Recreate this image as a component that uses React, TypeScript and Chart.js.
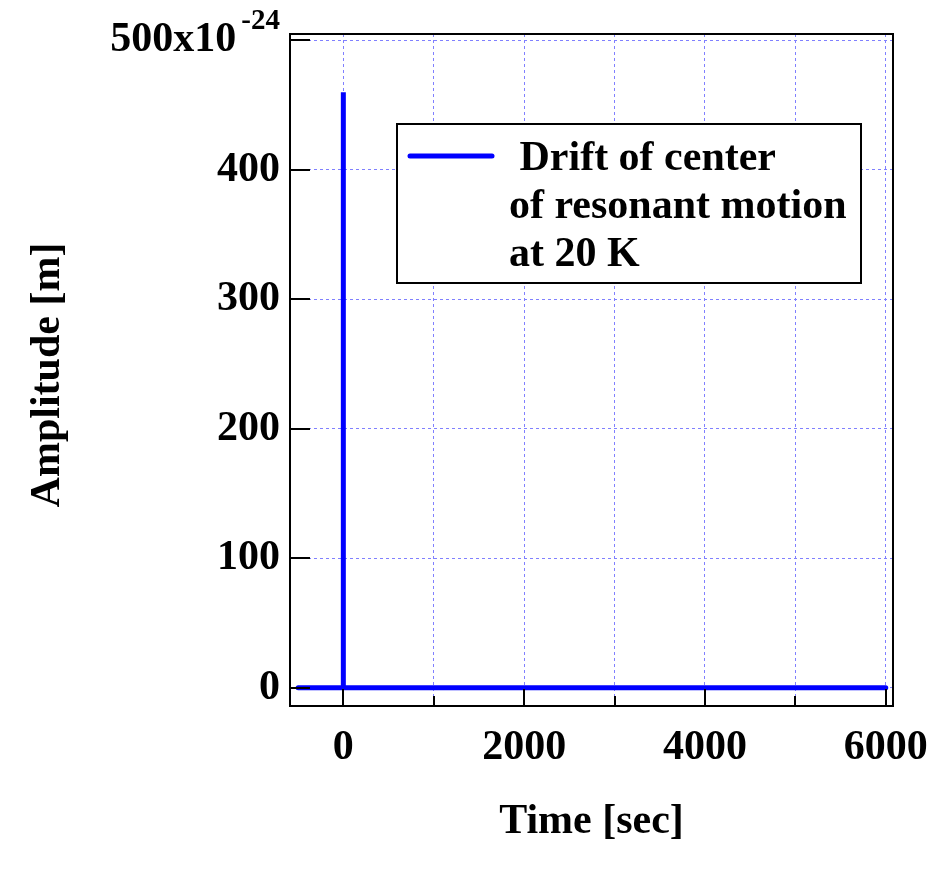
import React, { useEffect, useRef } from "react";
import { Chart, registerables } from "chart.js";

Chart.register(...registerables);

// ---- data ----
const timeSec = [-500, 0, 0, 0, 6000];
const amplitude = [0, 0, 460, 0, 0]; // in units of 1e-24 m
const seriesLabelLines = [" Drift of center", "of resonant motion", "at 20 K"];

const xTickValues = [0, 1000, 2000, 3000, 4000, 5000, 6000];
const xLabeledTicks = [0, 2000, 4000, 6000];
const yTickValues = [0, 100, 200, 300, 400, 500];
const yTopLabel = "500x10";
const yTopExponent = "-24";

const xTitle = "Time [sec]";
const yTitle = "Amplitude [m]";

const FONT_FAMILY = "'Liberation Serif', 'Times New Roman', serif";

const decorPlugin = {
  id: "decor",
  afterDraw(chart: any) {
    const { ctx, chartArea, scales } = chart;
    const { left, right, top, bottom } = chartArea;
    const xs = scales.x;
    const ys = scales.y;
    ctx.save();

    // frame
    ctx.strokeStyle = "#000";
    ctx.lineWidth = 2;
    ctx.setLineDash([]);
    ctx.strokeRect(left, top, right - left, bottom - top);

    // inward y ticks
    ctx.beginPath();
    yTickValues.forEach((v) => {
      const y = Math.round(ys.getPixelForValue(v));
      ctx.moveTo(left, y);
      ctx.lineTo(left + 20, y);
    });
    // inward x ticks
    xTickValues.forEach((v) => {
      const x = Math.round(xs.getPixelForValue(v));
      const len = xLabeledTicks.includes(v) ? 17 : 10;
      ctx.moveTo(x, bottom);
      ctx.lineTo(x, bottom - len);
    });
    ctx.stroke();

    // top y label with exponent
    const yTop = ys.getPixelForValue(500);
    ctx.fillStyle = "#000";
    ctx.font = `bold 29px ${FONT_FAMILY}`;
    ctx.textAlign = "right";
    ctx.textBaseline = "alphabetic";
    const expW = ctx.measureText(yTopExponent).width;
    ctx.fillText(yTopExponent, left - 10, 29);
    ctx.font = `bold 42px ${FONT_FAMILY}`;
    ctx.textBaseline = "middle";
    ctx.fillText(yTopLabel, left - 15 - expW, yTop);

    // axis titles
    ctx.textAlign = "center";
    ctx.textBaseline = "alphabetic";
    ctx.fillText(xTitle, (left + right) / 2, 833);
    ctx.save();
    ctx.translate(59, 375);
    ctx.rotate(-Math.PI / 2);
    ctx.fillText(yTitle, 0, 0);
    ctx.restore();

    // legend
    const bx = 397, by = 124, bw = 464, bh = 159;
    ctx.fillStyle = "#fff";
    ctx.fillRect(bx, by, bw, bh);
    ctx.strokeStyle = "#000";
    ctx.lineWidth = 2;
    ctx.strokeRect(bx, by, bw, bh);
    ctx.strokeStyle = "#0000ff";
    ctx.lineWidth = 5;
    ctx.lineCap = "round";
    ctx.beginPath();
    ctx.moveTo(410, 156);
    ctx.lineTo(492, 156);
    ctx.stroke();
    ctx.fillStyle = "#000";
    ctx.textAlign = "left";
    ctx.textBaseline = "alphabetic";
    ctx.font = `bold 42px ${FONT_FAMILY}`;
    seriesLabelLines.forEach((line, i) => {
      ctx.fillText(line, 509, 170 + i * 48);
    });

    ctx.restore();
  },
};

export default function App() {
  const canvasRef = useRef<HTMLCanvasElement | null>(null);

  useEffect(() => {
    const canvas = canvasRef.current;
    if (!canvas) return;
    const points = timeSec.map((t, i) => ({ x: t, y: amplitude[i] }));
    const chart = new Chart(canvas, {
      type: "line",
      data: {
        datasets: [
          {
            label: seriesLabelLines.join(" ").trim(),
            data: points,
            borderColor: "#0000ff",
            borderWidth: 5,
            pointRadius: 0,
            tension: 0,
            fill: false,
            borderCapStyle: "round",
          },
        ],
      },
      options: {
        responsive: false,
        animation: false,
        parsing: false as any,
        layout: { padding: { top: 34, right: 49, left: 0, bottom: 0 } },
        plugins: {
          legend: { display: false },
          tooltip: { enabled: false },
        },
        scales: {
          x: {
            type: "linear",
            min: -590,
            max: 6080,
            afterBuildTicks: (scale: any) => {
              scale.ticks = xTickValues.map((v) => ({ value: v }));
            },
            afterFit: (scale: any) => {
              scale.height = 879 - 706;
              scale.paddingLeft = 0;
              scale.paddingRight = 0;
            },
            ticks: {
              autoSkip: false,
              maxRotation: 0,
              padding: 17,
              color: "#000",
              font: { family: FONT_FAMILY, size: 42, weight: "bold" },
              callback: (v: any) => (xLabeledTicks.includes(Number(v)) ? String(v) : ""),
            },
            grid: {
              color: "#8080ff",
              lineWidth: 1,
              drawTicks: false,
            },
            border: { display: false, dash: [3, 3] },
          },
          y: {
            type: "linear",
            min: -14,
            max: 505,
            afterBuildTicks: (scale: any) => {
              scale.ticks = yTickValues.map((v) => ({ value: v }));
            },
            afterFit: (scale: any) => {
              scale.width = 290;
              scale.paddingTop = 0;
              scale.paddingBottom = 0;
            },
            ticks: {
              autoSkip: false,
              padding: 10,
              color: "#000",
              font: { family: FONT_FAMILY, size: 42, weight: "bold" },
              callback: (v: any) => (Number(v) === 500 ? "" : String(v)),
            },
            grid: {
              color: "#8080ff",
              lineWidth: 1,
              drawTicks: false,
            },
            border: { display: false, dash: [3, 3] },
          },
        },
      },
      plugins: [decorPlugin],
    } as any);
    return () => chart.destroy();
  }, []);

  return (
    <div style={{ position: "absolute", left: 0, top: 0, width: 942, height: 879, background: "#fff" }}>
      <canvas ref={canvasRef} width={942} height={879} style={{ width: 942, height: 879 }} />
    </div>
  );
}
